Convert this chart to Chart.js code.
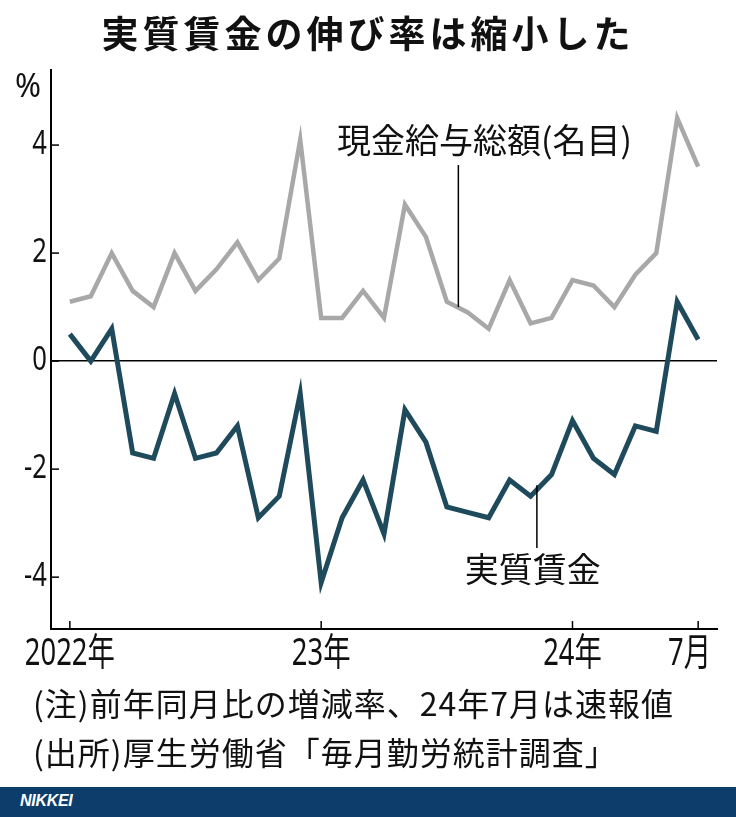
<!DOCTYPE html>
<html lang="ja">
<head>
<meta charset="utf-8">
<script src="https://cdn.jsdelivr.net/npm/chart.js@4"></script>
<style>
  html, body { margin: 0; padding: 0; background: #fff; }
  #wrap { position: relative; width: 736px; height: 817px; overflow: hidden; font-family: "Noto Sans CJK JP", "Noto Sans", sans-serif; color: #111; }
  #chart { position: absolute; left: 0; top: 0; }
  .title { position: absolute; left: 0; top: 10px; width: 736px; text-align: center; font-size: 37px; font-weight: bold; letter-spacing: 4px; line-height: 44px; }
  .unit { position: absolute; left: 15px; top: 62px; font-family: "Noto Sans", sans-serif; font-size: 33px; transform: scaleX(0.95); transform-origin: left top; }
  .note { position: absolute; left: 33px; font-size: 32px; line-height: 36px; letter-spacing: 1px; white-space: nowrap; }
  .footer { position: absolute; left: 0; top: 787px; width: 736px; height: 30px; background: #0d3d6b; }
  .footer span { position: absolute; left: 20px; top: 5px; color: #fff; font-family: "Liberation Sans", Arial, sans-serif; font-weight: bold; font-style: italic; font-size: 16px; letter-spacing: -0.3px; }
</style>
</head>
<body>
<div id="wrap">
  <canvas id="chart" width="736" height="817"></canvas>
  <div class="title">実質賃金の伸び率は縮小した</div>
  <div class="unit">%</div>
  <div class="note" style="top:684px">(注)前年同月比の増減率、24年7月は速報値</div>
  <div class="note" style="top:733px">(出所)厚生労働省「毎月勤労統計調査」</div>
  <div class="footer"><span>NIKKEI</span></div>
</div>
<script>
// 2022年1月 〜 2024年7月 (前年同月比, %)
var nominal = [1.1, 1.2, 2.0, 1.3, 1.0, 2.0, 1.3, 1.7, 2.2, 1.5, 1.9, 4.1,
               0.8, 0.8, 1.3, 0.8, 2.9, 2.3, 1.1, 0.9, 0.6, 1.5, 0.7, 0.8,
               1.5, 1.4, 1.0, 1.6, 2.0, 4.5, 3.6];
var real = [0.5, 0.0, 0.6, -1.7, -1.8, -0.6, -1.8, -1.7, -1.2, -2.9, -2.5, -0.6,
            -4.1, -2.9, -2.2, -3.2, -0.9, -1.5, -2.7, -2.8, -2.9, -2.2, -2.5, -2.1,
            -1.1, -1.8, -2.1, -1.2, -1.3, 1.1, 0.4];
var xTickPos = [0, 12, 24, 30];
var xTickLabels = ['2022年', '23年', '24年', '7月'];
var yTicks = [-4, -2, 0, 2, 4];

function toPoints(arr) {
  return arr.map(function (v, i) { return { x: i, y: v }; });
}

// 系列ラベルと引き出し線 (データ座標で指定)
var callouts = [
  { text: '現金給与総額(名目)', x: 19.8, y: 4.1, lineX: 18.55, y1: 3.63, y2: 1.0 },
  { text: '実質賃金', x: 22.1, y: -3.85, lineX: 22.3, y1: -2.3, y2: -3.46 }
];

// 細身の数字を描く (横方向に圧縮)
function narrowText(ctx, text, x, y, sx, align) {
  var w = ctx.measureText(text).width * sx;
  var left = align === 'right' ? x - w : align === 'center' ? x - w / 2 : x;
  ctx.save();
  ctx.translate(left, y);
  ctx.scale(sx, 1);
  ctx.fillText(text, 0, 0);
  ctx.restore();
}

var axisDecor = {
  id: 'axisDecor',
  afterDraw: function (chart) {
    var ctx = chart.ctx, xs = chart.scales.x, ys = chart.scales.y;
    var area = chart.chartArea;
    ctx.save();
    ctx.strokeStyle = '#000';
    ctx.fillStyle = '#111';
    ctx.lineWidth = 1.5;
    ctx.textAlign = 'left';

    ctx.font = '32px "Noto Sans", sans-serif';
    ctx.textBaseline = 'middle';
    yTicks.forEach(function (v) {
      var py = ys.getPixelForValue(v);
      ctx.beginPath(); ctx.moveTo(area.left, py); ctx.lineTo(area.left + 8, py); ctx.stroke();
      narrowText(ctx, String(v), area.left - 4, py, 0.8, 'right');
    });

    ctx.font = '38px "Noto Sans", "Noto Sans CJK JP", sans-serif';
    ctx.textBaseline = 'top';
    xTickPos.forEach(function (v, i) {
      var px = xs.getPixelForValue(v);
      ctx.beginPath(); ctx.moveTo(px, area.bottom); ctx.lineTo(px, area.bottom - 8); ctx.stroke();
      var sx = 0.72;
      var w = ctx.measureText(xTickLabels[i]).width * sx;
      var cx = Math.min(px, area.right - 6 - w / 2);
      narrowText(ctx, xTickLabels[i], cx, area.bottom + 6, sx, 'center');
    });

    ctx.font = '34px "Noto Sans CJK JP", sans-serif';
    ctx.textAlign = 'center';
    ctx.textBaseline = 'middle';
    callouts.forEach(function (c) {
      ctx.fillText(c.text, xs.getPixelForValue(c.x), ys.getPixelForValue(c.y));
      var lx = xs.getPixelForValue(c.lineX);
      ctx.beginPath();
      ctx.moveTo(lx, ys.getPixelForValue(c.y1));
      ctx.lineTo(lx, ys.getPixelForValue(c.y2));
      ctx.stroke();
    });
    ctx.restore();
  }
};

new Chart(document.getElementById('chart'), {
  type: 'line',
  data: {
    datasets: [{
      label: '現金給与総額(名目)',
      data: toPoints(nominal),
      borderColor: '#a8a8a8',
      borderWidth: 4.5,
      pointRadius: 0,
      tension: 0
    }, {
      label: '実質賃金',
      data: toPoints(real),
      borderColor: '#1e4a5c',
      borderWidth: 5,
      pointRadius: 0,
      tension: 0
    }]
  },
  options: {
    responsive: false,
    animation: false,
    devicePixelRatio: 1,
    layout: { padding: { top: 70, right: 19, bottom: 128, left: 0 } },
    plugins: { legend: { display: false }, tooltip: { enabled: false } },
    scales: {
      x: {
        type: 'linear',
        min: -0.9,
        max: 30.9,
        afterBuildTicks: function (s) { s.ticks = xTickPos.map(function (v) { return { value: v }; }); },
        afterFit: function (s) { s.height = 60; },
        grid: { drawOnChartArea: false, drawTicks: false },
        border: { display: true, color: '#000', width: 2 },
        ticks: { display: false }
      },
      y: {
        min: -4.96,
        max: 5.39,
        afterBuildTicks: function (s) { s.ticks = yTicks.map(function (v) { return { value: v }; }); },
        afterFit: function (s) { s.width = 51; },
        grid: {
          drawTicks: false,
          color: function (c) { return c.tick && c.tick.value === 0 ? '#000' : 'rgba(0,0,0,0)'; },
          lineWidth: 1.5
        },
        border: { display: true, color: '#000', width: 2 },
        ticks: { display: false }
      }
    }
  },
  plugins: [axisDecor]
});
</script>
</body>
</html>
